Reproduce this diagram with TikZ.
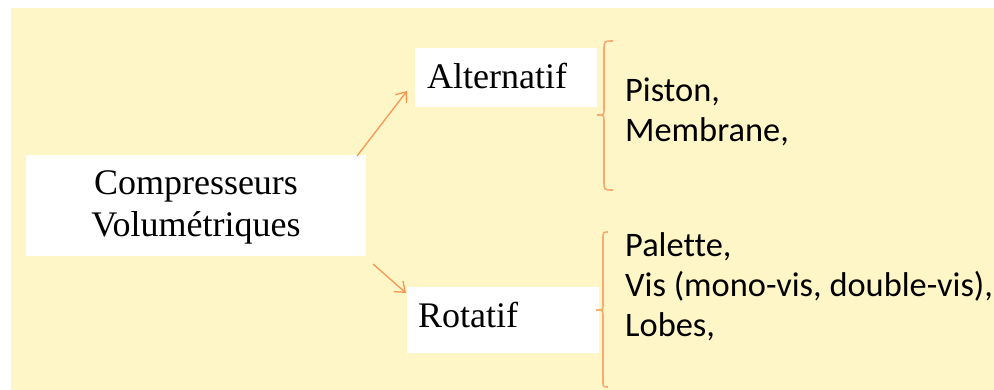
\documentclass[tikz,border=0pt]{standalone}
\usepackage{fontspec}
\setmainfont{Liberation Serif}
\newfontfamily\calibri[Ligatures=NoCommon]{Carlito}
\usetikzlibrary{arrows.meta}
\definecolor{bgyellow}{RGB}{255,246,199}
\definecolor{arrorange}{RGB}{247,150,80}
\definecolor{braceorange}{RGB}{249,170,110}
\tikzset{
  whitebox/.style={fill=white, draw=none, inner sep=0pt},
  serif/.style={font=\fontsize{36}{42}\selectfont, inner sep=0pt, anchor=base west},
  cal/.style={font=\calibri\fontsize{34.4}{40}\selectfont, inner sep=0pt, anchor=base west},
  conn/.style={draw=arrorange, line width=1.3pt, -{Straight Barb[length=9pt,width=14pt,line width=1.3pt]}},
  bracestyle/.style={draw=braceorange, line width=1.6pt},
}
\begin{document}
\begin{tikzpicture}[x=1pt,y=-1pt]
\useasboundingbox (0,0) rectangle (994,390);
\fill[bgyellow] (11,8) rectangle (994,390);
% boxes
\node[whitebox, minimum width=340pt, minimum height=101pt] (comp) at (196,205.5) {};
\node[whitebox, minimum width=182pt, minimum height=59pt] (alt) at (506,77.5) {};
\node[whitebox, minimum width=192pt, minimum height=66pt] (rot) at (503,320) {};
% texts
\node[serif, anchor=base] (comp1) at (196,195) {Compresseurs};
\node[serif, anchor=base] (comp2) at (196,237) {Volumétriques};
\node[serif] (altt) at (427,88.5) {Alternatif};
\node[serif] (rott) at (418,327) {Rotatif};
\node[cal] (l1) at (625,102) {Piston,};
\node[cal] (l2) at (625,142) {Membrane,};
\node[cal] (l3) at (625,257) {Palette,};
\node[cal] (l4) at (625,297) {Vis (mono-vis, double-vis),};
\node[cal] (l5) at (625,337) {Lobes,};
% connectors
\coordinate (a1s) at (357,156);
\coordinate (a1e) at (407,91);
\coordinate (a2s) at (373,264);
\coordinate (a2e) at (406,293);
\draw[conn] (a1s) -- (a1e);
\draw[conn] (a2s) -- (a2e);
% braces
\draw[bracestyle] (613,41) .. controls (604,41) .. (604,50) -- (604,109)
  .. controls (604,115) .. (597,115) .. controls (604,115) .. (604,121)
  -- (604,181) .. controls (604,190) .. (613,190);
\draw[bracestyle] (608,232) .. controls (603,232) .. (603,239) -- (603,304)
  .. controls (603,310) .. (596,310) .. controls (603,310) .. (603,316)
  -- (603,380) .. controls (603,387) .. (608,387);
\end{tikzpicture}
\end{document}
